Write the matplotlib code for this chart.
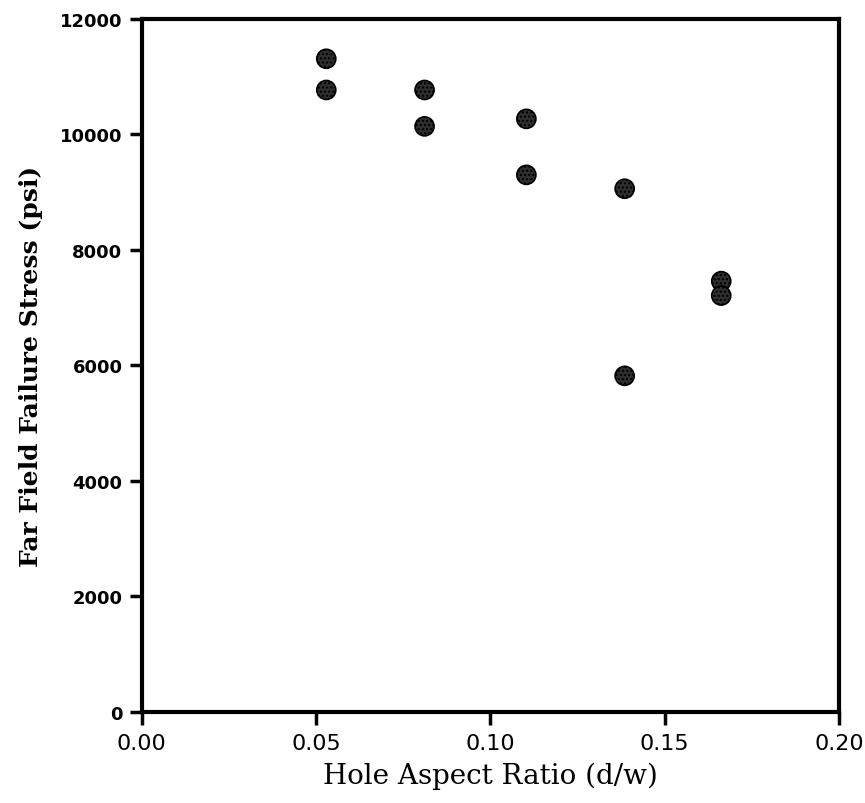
import matplotlib
matplotlib.use("Agg")
import matplotlib.pyplot as plt

aspect_ratio = [0.0529, 0.0529, 0.0811, 0.0811, 0.1103, 0.1103, 0.1385, 0.1385, 0.1662, 0.1662]
failure_stress = [11310, 10770, 10770, 10140, 10270, 9300, 9060, 5820, 7460, 7210]
x_ticks = [0.00, 0.05, 0.10, 0.15, 0.20]
x_tick_labels = ["0.00", "0.05", "0.10", "0.15", "0.20"]
y_ticks = [0, 2000, 4000, 6000, 8000, 10000, 12000]
y_tick_labels = ["0", "2000", "4000", "6000", "8000", "10000", "12000"]

fig = plt.figure(figsize=(8.65, 8.04), dpi=100)
ax = fig.add_axes([0.164, 0.1132, 0.806, 0.862])

ax.scatter(aspect_ratio, failure_stress, s=19**2 * 0.52, c="#2e2e2e",
           edgecolors="black", linewidths=1.2, hatch="....", zorder=3)

ax.set_xlim(0, 0.2)
ax.set_ylim(0, 12000)
ax.set_xticks(x_ticks)
ax.set_xticklabels(x_tick_labels, fontsize=16, family="DejaVu Sans")
ax.set_yticks(y_ticks)
ax.set_yticklabels(y_tick_labels, fontsize=13, fontweight="bold", family="DejaVu Sans")

for s in ax.spines.values():
    s.set_linewidth(3)
ax.tick_params(axis="both", direction="out", length=9, width=2.5, top=False, right=False)
ax.tick_params(axis="x", pad=6)
ax.tick_params(axis="y", pad=5)

ax.set_xlabel("Hole Aspect Ratio (d/w)", fontsize=20, family="DejaVu Serif", labelpad=6)
ax.set_ylabel("Far Field Failure Stress (psi)", fontsize=18, family="DejaVu Serif",
              fontweight="bold", labelpad=12)

fig.savefig("out.png", dpi=100)
